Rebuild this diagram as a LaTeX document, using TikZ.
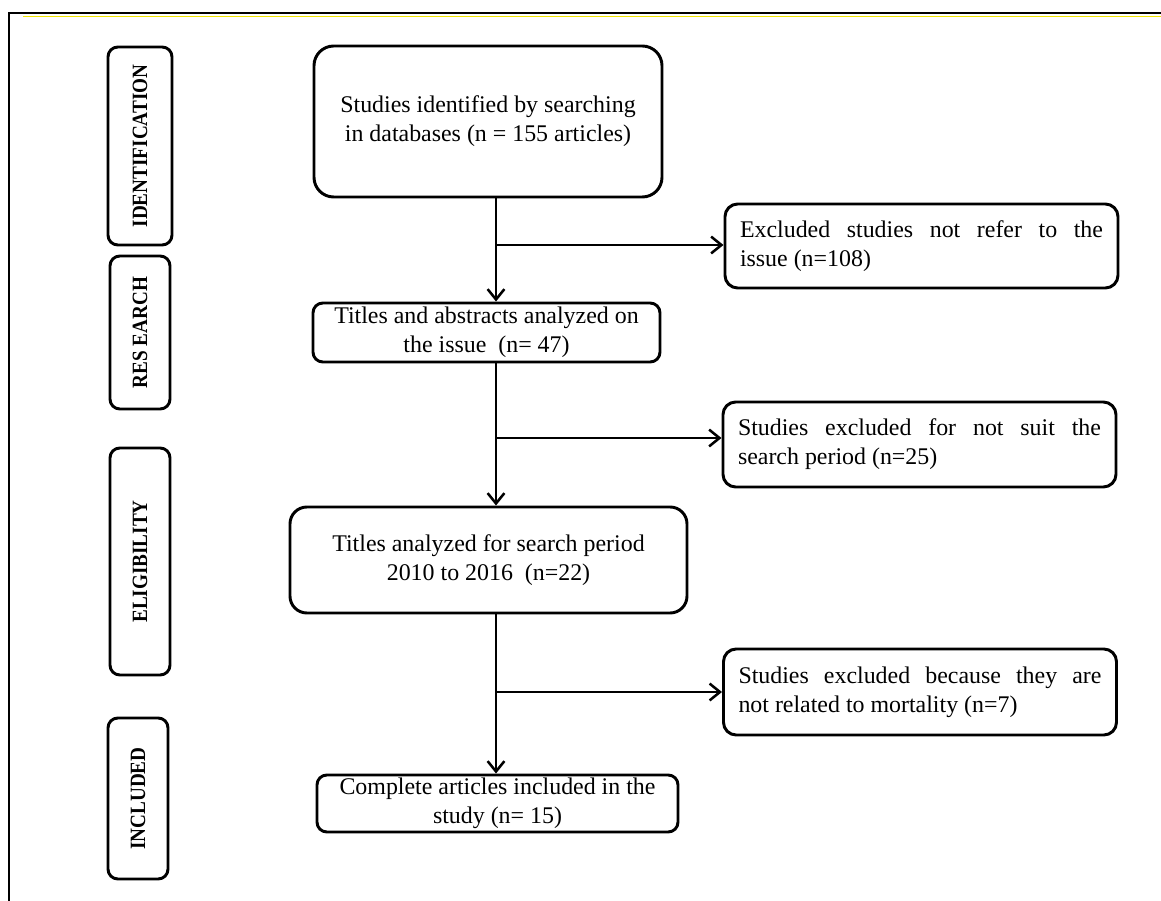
\documentclass[tikz,border=0pt]{standalone}
\usepackage{fontspec}
\setmainfont{Liberation Serif}
\usepackage{xcolor}
\usetikzlibrary{arrows.meta,positioning,calc}
\definecolor{ink}{HTML}{000000}
\definecolor{rulegold}{HTML}{F2E600}
\newcommand{\phasetxt}[1]{\scalebox{0.88}[1]{#1}}

\begin{document}
\begin{tikzpicture}

% page frame (the picture keeps the reference's margins)
\useasboundingbox (0,0) rectangle (29.025,-22.525);
\draw[line width=1.5pt, draw=ink] (0.225,-23) -- (0.225,-0.325) -- (29.5,-0.325);
\draw[line width=0.5pt, draw=rulegold] (0.575,-0.4) -- (29.5,-0.4);

\tikzset{
  phasebox/.style={rounded corners=7pt, draw=ink, line width=2.1pt, rotate=90,
                   inner sep=0pt, align=center, font=\bfseries\fontsize{15.5}{18}\selectfont},
  mainbox/.style={rounded corners=7pt, draw=ink, line width=2.1pt, inner sep=0pt,
                  align=center, font=\fontsize{17}{20.6}\selectfont},
  exbox/.style={rounded corners=9pt, draw=ink, line width=2.1pt, inner xsep=0.375cm, inner ysep=0pt,
                text width=9.075cm, align=justify, font=\fontsize{17}{20.6}\selectfont},
  flow/.style={-{Straight Barb[length=2.6mm,width=4.2mm]}, line width=1.8pt, draw=ink}}

% phase labels on the left
\node[phasebox, minimum width=4.95cm, minimum height=1.6cm] (ph1) at (3.5,-3.65) {\phasetxt{IDENTIFICATION}};
\node[phasebox, minimum width=3.825cm, minimum height=1.5cm] (ph2) at (3.5,-8.3125) {\phasetxt{RES EARCH}};
\node[phasebox, minimum width=5.675cm, minimum height=1.5cm] (ph3) at (3.5,-14.0375) {\phasetxt{ELIGIBILITY}};
\node[phasebox, minimum width=4.025cm, minimum height=1.5cm] (ph4) at (3.45,-19.9625) {\phasetxt{INCLUDED}};

% main column
\node[mainbox, rounded corners=14pt, minimum width=8.7cm, minimum height=3.775cm] (st1) at (12.2,-3.0375)
  {Studies identified by searching\\in databases (n = 155 articles)};
\node[mainbox, minimum width=8.675cm, minimum height=1.475cm] (st2) at (12.1625,-8.3125)
  {Titles and abstracts analyzed on\\the issue ~(n= 47)};
\node[mainbox, rounded corners=12pt, minimum width=9.925cm, minimum height=2.65cm] (st3) at (12.2125,-14.0)
  {Titles analyzed for search period\\2010 to 2016 ~(n=22)};
\node[mainbox, minimum width=9.025cm, minimum height=1.425cm] (st4) at (12.4375,-20.0875)
  {Complete articles included in the\\study (n= 15)};

% excluded studies on the right
\node[exbox, minimum height=2.1cm] (ex1) at (23.0375,-6.15)
  {Excluded studies not refer to the\linebreak issue (n=108)};
\node[exbox, minimum height=2.125cm] (ex2) at (22.9875,-11.1125)
  {Studies excluded for not suit the\linebreak search period (n=25)};
\node[exbox, minimum height=2.15cm] (ex3) at (23.0,-17.3)
  {Studies excluded because they are\linebreak not related to mortality (n=7)};

% branch points on the spine
\coordinate (br1) at (12.4,-6.125);
\coordinate (br2) at (12.4,-10.95);
\coordinate (br3) at (12.4,-17.3);

\draw[flow] (st1.south -| br1) -- (st2.north -| br1);
\draw[flow] (st2.south -| br2) -- (st3.north -| br2);
\draw[flow] (st3.south -| br3) -- (st4.north -| br3);
\draw[flow] (br1) -- (br1 -| ex1.west);
\draw[flow] (br2) -- (br2 -| ex2.west);
\draw[flow] (br3) -- (br3 -| ex3.west);

\end{tikzpicture}
\end{document}
